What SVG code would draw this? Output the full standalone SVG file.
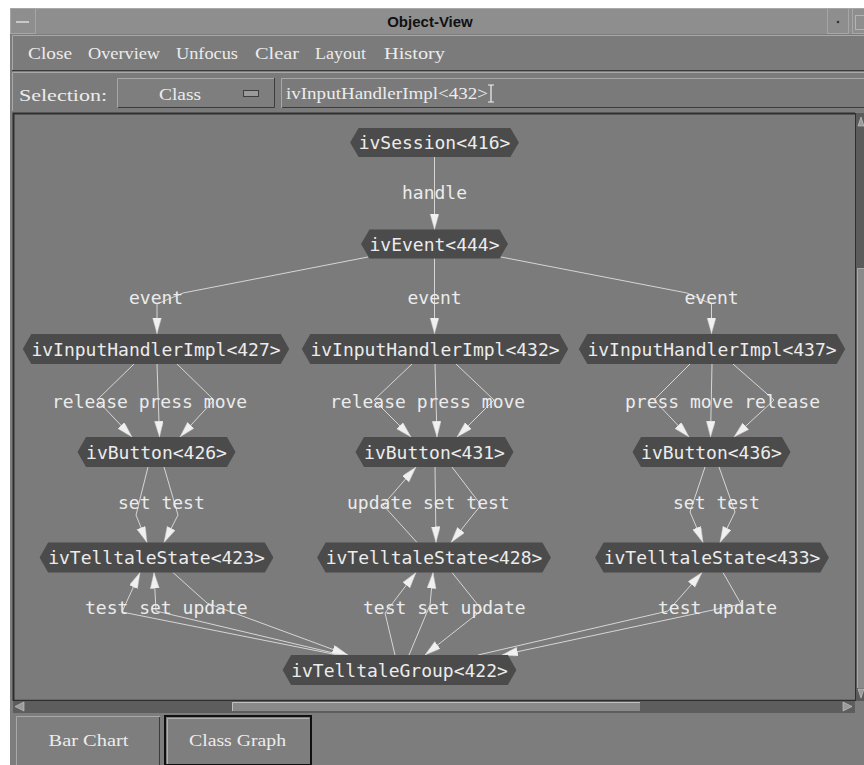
<svg xmlns="http://www.w3.org/2000/svg" width="864" height="765" viewBox="0 0 864 765">
  <defs>
    <style>
      .ui { font-family: "Liberation Serif", "DejaVu Serif", serif; font-size: 16px; fill: #ececec; }
      .title { font-family: "Liberation Sans", Arial, sans-serif; font-size: 15px; font-weight: bold; fill: #111; }
      .node polygon { fill: #4b4b4b; }
      .node text, .lbl { font-family: "DejaVu Sans Mono", "Liberation Mono", monospace; font-size: 18px; fill: #ececec; }
      .node text { text-anchor: middle; }
      .edges path { fill: none; stroke: #d6d6d6; stroke-width: 1; marker-end: url(#arrow); }
      .hi { stroke: #a8a8a8; fill: none; }
      .lo { stroke: #3c3c3c; fill: none; }
    </style>
    <marker id="arrow" markerUnits="userSpaceOnUse" markerWidth="17" markerHeight="10" refX="16" refY="4.5" orient="auto">
      <path d="M0,0 L16,4.5 L0,9 Z" fill="#f0f0f0" stroke="#c8c8c8" stroke-width="0.5"/>
    </marker>
  </defs>

  <!-- page and window frame -->
  <rect x="0" y="0" width="864" height="765" fill="#ffffff"/>
  <rect x="10" y="8" width="854" height="757" fill="#7d7d7d"/>

  <!-- title bar -->
  <rect x="10" y="8" width="854" height="26" fill="#8e8e8e"/>
  <path class="hi" d="M10.5,33 V8.5 H864"/>
  <rect x="10.5" y="8.5" width="25" height="25" fill="none" stroke="#a6a6a6"/>
  <line x1="16" y1="22" x2="29" y2="22" stroke="#c8c8c8" stroke-width="2"/>
  <rect x="827.5" y="8.5" width="21" height="25" fill="none" stroke="#a6a6a6"/>
  <circle cx="838" cy="22" r="1.3" fill="#333"/>
  <rect x="852.5" y="8.5" width="12" height="25" fill="none" stroke="#a6a6a6"/>
  <rect x="855.5" y="15.5" width="9" height="14" fill="none" stroke="#b4b4b4"/>
  <text class="title" x="430" y="27" text-anchor="middle">Object-View</text>

  <!-- menu bar -->
  <rect x="12" y="35" width="852" height="36" fill="#7b7b7b"/>
  <path class="hi" d="M12.5,70 V35.5 H864"/>
  <path class="lo" d="M12,70.5 H864"/>
  <text class="ui" x="28" y="59" textLength="44" lengthAdjust="spacingAndGlyphs">Close</text>
  <text class="ui" x="88" y="59" textLength="72" lengthAdjust="spacingAndGlyphs">Overview</text>
  <text class="ui" x="176" y="59" textLength="62" lengthAdjust="spacingAndGlyphs">Unfocus</text>
  <text class="ui" x="255" y="59" textLength="44" lengthAdjust="spacingAndGlyphs">Clear</text>
  <text class="ui" x="315" y="59" textLength="51" lengthAdjust="spacingAndGlyphs">Layout</text>
  <text class="ui" x="384" y="59" textLength="61" lengthAdjust="spacingAndGlyphs">History</text>

  <!-- selection row -->
  <rect x="12" y="72" width="852" height="40" fill="#7b7b7b"/>
  <path class="hi" d="M12.5,111 V72.5 H864"/>
  <text class="ui" x="19" y="101" textLength="88" lengthAdjust="spacingAndGlyphs">Selection:</text>
  <rect x="117" y="78" width="158" height="30" fill="#7e7e7e"/>
  <path class="hi" d="M117.5,107.5 V78.5 H275"/>
  <path class="lo" d="M118,107.5 H274.5 V78"/>
  <text class="ui" x="159" y="100" textLength="42" lengthAdjust="spacingAndGlyphs">Class</text>
  <rect x="243.5" y="90.5" width="15" height="6" fill="#9a9a9a" stroke="#3e3e3e"/>
  <rect x="281" y="78" width="583" height="30" fill="#7a7a7a"/>
  <path class="hi" d="M281.5,108 V78.5 H864"/>
  <path class="lo" d="M282,107.5 H864"/>
  <text class="ui" x="286" y="99" font-size="14" textLength="202" lengthAdjust="spacingAndGlyphs">ivInputHandlerImpl&lt;432&gt;</text>
  <path d="M488,85 H494 M491,85 V102 M488,102 H494" stroke="#f0f0f0" stroke-width="1.2" fill="none"/>

  <!-- graph canvas -->
  <rect x="13" y="113" width="842" height="588" fill="#7b7b7b"/>
  <path d="M13.5,701 V113.5 H855" stroke="#2e2e2e" stroke-width="2" fill="none"/>
  <path d="M13,700.5 H855" stroke="#2e2e2e" stroke-width="1.5"/>

  <!-- vertical scrollbar -->
  <rect x="855" y="113" width="9" height="588" fill="#5b5b5b"/>
  <line x1="855.5" y1="113" x2="855.5" y2="701" stroke="#2e2e2e"/>
  <rect x="857" y="268" width="7" height="420" fill="#8a8a8a"/>
  <path class="hi" d="M857.5,688 V268.5 H864" stroke="#c0c0c0"/>
  <path d="M858,126 L861,117 L864,126 Z" fill="#9a9a9a" stroke="#cfcfcf" stroke-width="0.6"/>
  <path d="M858,689 L861,698 L864,689 Z" fill="#9a9a9a" stroke="#cfcfcf" stroke-width="0.6"/>

  <!-- horizontal scrollbar -->
  <rect x="13" y="701" width="842" height="12" fill="#5d5d5d"/>
  <rect x="232" y="702" width="408" height="9" fill="#8a8a8a"/>
  <path d="M232.5,711 V702.5 H640" stroke="#c0c0c0" fill="none"/>
  <path d="M24,702 L15,706.5 L24,711 Z" fill="#9a9a9a" stroke="#cfcfcf" stroke-width="0.6"/>
  <path d="M843,702 L852,706.5 L843,711 Z" fill="#9a9a9a" stroke="#cfcfcf" stroke-width="0.6"/>
  <rect x="855" y="701" width="9" height="12" fill="#7d7d7d"/>

  <!-- bottom tabs -->
  <rect x="12" y="714" width="852" height="51" fill="#7d7d7d"/>
  <rect x="16" y="716" width="144" height="49" fill="#7e7e7e"/>
  <path class="hi" d="M16.5,765 V716.5 H160" stroke="#b0b0b0"/>
  <path class="lo" d="M159.5,717 V765"/>
  <text class="ui" x="48.5" y="746" textLength="80" lengthAdjust="spacingAndGlyphs">Bar Chart</text>
  <rect x="165" y="716" width="146" height="49" fill="#7e7e7e" stroke="#101010" stroke-width="2"/>
  <path d="M167.5,764 V718.5 H309" stroke="#b0b0b0" fill="none"/>
  <text class="ui" x="189" y="746" textLength="97" lengthAdjust="spacingAndGlyphs">Class Graph</text>

  <!-- connectors -->
  <g class="edges" id="edges">
    <path d="M434.5,157 L434.5,229.5"/>
    <path d="M368,257 L183,293 L157,304 L157,333.5"/>
    <path d="M434.5,258.5 L434.5,333.5"/>
    <path d="M501,257 L687,293 L711.5,304 L711.5,333.5"/>

    <path d="M134,364 L97,400 L132,437"/>
    <path d="M157,364 L159.5,437"/>
    <path d="M177,364 L214,400 L180,437"/>

    <path d="M412,364 L374,400 L411,437"/>
    <path d="M435,364 L437,437"/>
    <path d="M456,364 L494,400 L457,437"/>

    <path d="M690,364 L654,400 L689,437"/>
    <path d="M712,364 L710.5,437"/>
    <path d="M733,364 L774,400 L734,437"/>

    <path d="M148,467 L136,515 L147,542.5"/>
    <path d="M164,467 L178,515 L164,542.5"/>

    <path d="M417,542.5 L383,505 L416,467"/>
    <path d="M435,467 L436,542.5"/>
    <path d="M452,467 L481,505 L451,542.5"/>

    <path d="M705,467 L690,512 L703,542.5"/>
    <path d="M719,467 L735,512 L720,542.5"/>

    <path d="M338,655 L122,612 L140,572.5"/>
    <path d="M342,655 L156,611 L154,572.5"/>
    <path d="M173,572.5 L207,603 L348,655"/>

    <path d="M395,655 L385,613 L416,572.5"/>
    <path d="M409,655 L430,605 L433,572.5"/>
    <path d="M452,572.5 L482,610 L425,655"/>

    <path d="M478,655 L668,611 L702,572.5"/>
    <path d="M723,572.5 L741,604 L502,655"/>
  </g>

  <!-- connector labels -->
  <g id="edge-labels">
    <text class="lbl" x="402" y="199">handle</text>
    <text class="lbl" x="129" y="304">event</text>
    <text class="lbl" x="407.5" y="304">event</text>
    <text class="lbl" x="684.5" y="304">event</text>

    <text class="lbl" x="52" y="408">release</text>
    <text class="lbl" x="138.7" y="408">press</text>
    <text class="lbl" x="203.8" y="408">move</text>
    <text class="lbl" x="330" y="408">release</text>
    <text class="lbl" x="416.7" y="408">press</text>
    <text class="lbl" x="481.8" y="408">move</text>
    <text class="lbl" x="625" y="408">press</text>
    <text class="lbl" x="690" y="408">move</text>
    <text class="lbl" x="744.2" y="408">release</text>

    <text class="lbl" x="118" y="509">set</text>
    <text class="lbl" x="161.4" y="509">test</text>
    <text class="lbl" x="347" y="509">update</text>
    <text class="lbl" x="422.9" y="509">set</text>
    <text class="lbl" x="466.3" y="509">test</text>
    <text class="lbl" x="673" y="509">set</text>
    <text class="lbl" x="716.4" y="509">test</text>

    <text class="lbl" x="85" y="614">test</text>
    <text class="lbl" x="139.2" y="614">set</text>
    <text class="lbl" x="182.6" y="614">update</text>
    <text class="lbl" x="363" y="614">test</text>
    <text class="lbl" x="417.2" y="614">set</text>
    <text class="lbl" x="460.6" y="614">update</text>
    <text class="lbl" x="658" y="614">test</text>
    <text class="lbl" x="712.2" y="614">update</text>
  </g>

  <!-- nodes -->
  <g class="node" id="ivSession416">
    <polygon points="350.1,142.5 358.6,128 510.4,128 518.9,142.5 510.4,157 358.6,157"/>
    <text x="434.5" y="149">ivSession&lt;416&gt;</text>
  </g>
  <g class="node" id="ivEvent444">
    <polygon points="361,244 369.5,229.5 499.5,229.5 508,244 499.5,258.5 369.5,258.5"/>
    <text x="434.5" y="250.5">ivEvent&lt;444&gt;</text>
  </g>
  <g class="node" id="ivInputHandlerImpl427">
    <polygon points="22.8,349 31.3,334 280.7,334 289.2,349 280.7,364 31.3,364"/>
    <text x="156" y="355.5">ivInputHandlerImpl&lt;427&gt;</text>
  </g>
  <g class="node" id="ivInputHandlerImpl432">
    <polygon points="301.8,349 310.3,334 559.7,334 568.2,349 559.7,364 310.3,364"/>
    <text x="435" y="355.5">ivInputHandlerImpl&lt;432&gt;</text>
  </g>
  <g class="node" id="ivInputHandlerImpl437">
    <polygon points="578.8,349 587.3,334 836.7,334 845.2,349 836.7,364 587.3,364"/>
    <text x="712" y="355.5">ivInputHandlerImpl&lt;437&gt;</text>
  </g>
  <g class="node" id="ivButton426">
    <polygon points="77.5,452 86,437 227,437 235.5,452 227,467 86,467"/>
    <text x="156.5" y="458.5">ivButton&lt;426&gt;</text>
  </g>
  <g class="node" id="ivButton431">
    <polygon points="355.5,452 364,437 505,437 513.5,452 505,467 364,467"/>
    <text x="434.5" y="458.5">ivButton&lt;431&gt;</text>
  </g>
  <g class="node" id="ivButton436">
    <polygon points="632.5,452 641,437 782,437 790.5,452 782,467 641,467"/>
    <text x="711.5" y="458.5">ivButton&lt;436&gt;</text>
  </g>
  <g class="node" id="ivTelltaleState423">
    <polygon points="39.6,557.5 48.1,542.5 264.9,542.5 273.4,557.5 264.9,572.5 48.1,572.5"/>
    <text x="156.5" y="564">ivTelltaleState&lt;423&gt;</text>
  </g>
  <g class="node" id="ivTelltaleState428">
    <polygon points="317.1,557.5 325.6,542.5 542.4,542.5 550.9,557.5 542.4,572.5 325.6,572.5"/>
    <text x="434" y="564">ivTelltaleState&lt;428&gt;</text>
  </g>
  <g class="node" id="ivTelltaleState433">
    <polygon points="595.1,557.5 603.6,542.5 820.4,542.5 828.9,557.5 820.4,572.5 603.6,572.5"/>
    <text x="712" y="564">ivTelltaleState&lt;433&gt;</text>
  </g>
  <g class="node" id="ivTelltaleGroup422">
    <polygon points="282.6,670 291.1,655 507.9,655 516.4,670 507.9,685 291.1,685"/>
    <text x="399.5" y="676.5">ivTelltaleGroup&lt;422&gt;</text>
  </g>
</svg>
